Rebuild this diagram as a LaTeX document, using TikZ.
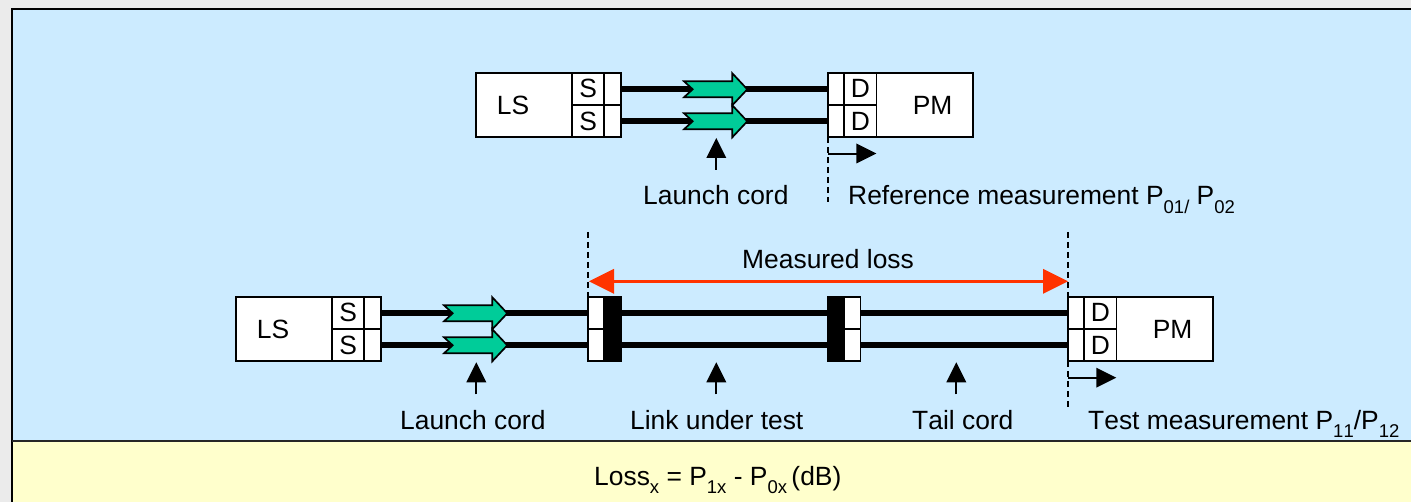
\documentclass[tikz,border=0pt]{standalone}
\usepackage{fontspec}
\setmainfont[Kerning=Off]{Liberation Sans}
\usetikzlibrary{positioning}
\definecolor{pagebg}{HTML}{EBEBEB}
\definecolor{skyfill}{HTML}{CCEBFF}
\definecolor{creamfill}{HTML}{FFFFCC}
\definecolor{greenfill}{HTML}{00CC99}
\definecolor{redline}{HTML}{FF3300}
\newcommand{\subtxt}[1]{\raisebox{-0.32em}{\fontsize{18.5}{20}\selectfont #1}}
\tikzset{
  cell/.style={draw=black,line width=1.7,fill=white,anchor=north west,inner sep=0,outer sep=0,text height=18,text depth=0,align=center,font=\fontsize{26.4}{30}\selectfont},
  blackcell/.style={cell,fill=black},
  label/.style={anchor=base west,inner sep=0,font=\fontsize{26.4}{30}\selectfont},
  fibre/.style={line width=5.5,draw=black},
  greenarrow/.style={draw=black,line width=1.7,fill=greenfill,line join=miter},
  thin/.style={line width=1.7,draw=black},
  dashline/.style={line width=1.7,draw=black,dash pattern=on 6 off 4},
  solidhead/.style={fill=black,draw=none}
}
\newcommand{\grn}[2]{\draw[greenarrow] (#1,#2-8) -- ++(8.7,8) -- ++(-8.7,8) -- ++(48.3,0) -- ++(0,8) -- ++(15,-16) -- ++(-15,-16) -- ++(0,8) -- cycle;}
\newcommand{\up}[3]{\coordinate (#3) at (#1,#2+32); \coordinate (#3t) at (#1,#2+19); \draw[thin] (#3) -- (#3t); \fill (#1,#2) -- (#1+10,#2+20) -- (#1-10,#2+20) -- cycle;}
\newcommand{\rgt}[2]{\fill (#1-20,#2-10) -- (#1,#2) -- (#1-20,#2+10) -- cycle;}
\begin{document}
\begin{tikzpicture}[x=1pt,y=-1pt]
\useasboundingbox (0,0) rectangle (1411,502);
\fill[pagebg] (0,0) rectangle (1411,502);
\fill[skyfill] (12,9) rectangle (1411,441);
\fill[creamfill] (12,441) rectangle (1411,502);
\draw[line width=2.2,draw=black] (12,502) -- (12,9) -- (1411,9);
\draw[line width=2.2,draw=black!85] (12,441) -- (1411,441);

% --- top row
\node[cell,minimum width=96,minimum height=64.3] (ls1) at (476,73) {\hspace*{-22pt}LS};
\node[cell,minimum width=32.5,minimum height=32] (s1a) at (572,73) {S};
\node[cell,minimum width=32.5,minimum height=32.3] (s1b) at (572,105) {S};
\node[cell,minimum width=16.5,minimum height=32] (c1a) at (604.3,73) {};
\node[cell,minimum width=16.5,minimum height=32.3] (c1b) at (604.3,105) {};
\node[cell,minimum width=16,minimum height=32] (e1a) at (828.3,73) {};
\node[cell,minimum width=16,minimum height=32.3] (e1b) at (828.3,105) {};
\node[cell,minimum width=32.2,minimum height=32] (d1a) at (844.3,73) {D};
\node[cell,minimum width=32.2,minimum height=32.3] (d1b) at (844.3,105) {D};
\node[cell,minimum width=96.2,minimum height=64.3] (pm1) at (876.5,73) {\hspace*{16pt}PM};
\draw[fibre] (c1a.east) -- (e1a.west);
\draw[fibre] (c1b.east) -- (e1b.west);
\grn{684}{121.3}
\grn{684}{89.3}
\up{716.3}{138}{u1}
\coordinate (ref1) at (828.3,137.3);
\coordinate (ref1e) at (828.3,202);
\draw[dashline] (ref1) -- (ref1e);
\coordinate (ra1) at (828.3,154);
\coordinate (rb1) at (860,154);
\draw[thin] (ra1) -- (rb1);
\rgt{876.3}{153.5}
\node[label] (t1) at (643,205) {Launch cord};
\node[label] (t2) at (848,205) {Reference measurement P\subtxt{01/} P\subtxt{02}};

% --- bottom row
\node[cell,minimum width=96,minimum height=64.3] (ls2) at (236,297) {\hspace*{-22pt}LS};
\node[cell,minimum width=32.5,minimum height=32] (s2a) at (332,297) {S};
\node[cell,minimum width=32.5,minimum height=32.3] (s2b) at (332,329) {S};
\node[cell,minimum width=16.5,minimum height=32] (c2a) at (364.3,297) {};
\node[cell,minimum width=16.5,minimum height=32.3] (c2b) at (364.3,329) {};
\node[cell,minimum width=16,minimum height=32] (w1a) at (588.3,297) {};
\node[cell,minimum width=16,minimum height=32.3] (w1b) at (588.3,329) {};
\node[blackcell,minimum width=16.5,minimum height=32] (k1a) at (604.3,297) {};
\node[blackcell,minimum width=16.5,minimum height=32.3] (k1b) at (604.3,329) {};
\node[blackcell,minimum width=17,minimum height=32] (k2a) at (827.5,297) {};
\node[blackcell,minimum width=17,minimum height=32.3] (k2b) at (827.5,329) {};
\node[cell,minimum width=16,minimum height=32] (w2a) at (844.5,297) {};
\node[cell,minimum width=16,minimum height=32.3] (w2b) at (844.5,329) {};
\node[cell,minimum width=16,minimum height=32] (e2a) at (1068.3,297) {};
\node[cell,minimum width=16,minimum height=32.3] (e2b) at (1068.3,329) {};
\node[cell,minimum width=32.2,minimum height=32] (d2a) at (1084.3,297) {D};
\node[cell,minimum width=32.2,minimum height=32.3] (d2b) at (1084.3,329) {D};
\node[cell,minimum width=96.2,minimum height=64.3] (pm2) at (1116.5,297) {\hspace*{16pt}PM};
\draw[fibre] (c2a.east) -- (w1a.west);
\draw[fibre] (c2b.east) -- (w1b.west);
\draw[fibre] (k1a.east) -- (k2a.west);
\draw[fibre] (k1b.east) -- (k2b.west);
\draw[fibre] (w2a.east) -- (e2a.west);
\draw[fibre] (w2b.east) -- (e2b.west);
\grn{444}{345.3}
\grn{444}{313.3}
\up{476.3}{362.3}{u2}
\up{716.3}{362.3}{u3}
\up{956.3}{362.3}{u4}
\coordinate (dl1) at (588.3,232);
\coordinate (dl2) at (1068.3,232);
\coordinate (dl3) at (1068.3,361.5);
\coordinate (dl4) at (1068.3,410);
\draw[dashline] (dl1) -- (w1a.north west);
\draw[dashline] (dl2) -- (e2a.north west);
\draw[dashline] (dl3) -- (dl4);
\coordinate (ra2) at (1068.3,377.7);
\coordinate (rb2) at (1100,377.7);
\draw[thin] (ra2) -- (rb2);
\rgt{1116.3}{377.7}
% red dimension arrow
\coordinate (ml) at (589,281.3);
\coordinate (mr) at (1068,281.3);
\draw[redline,line width=3] ([xshift=20]ml) -- ([xshift=-20]mr);
\fill[redline] (ml) -- ++(25,-12.5) -- ++(0,25) -- cycle;
\fill[redline] (mr) -- ++(-25,-12.5) -- ++(0,25) -- cycle;
\node[label] (t3) at (742,269) {Measured loss};
\node[label] (t4) at (400,429) {Launch cord};
\node[label] (t5) at (630,429) {Link under test};
\node[label] (t6) at (912,429) {Tail cord};
\node[label] (t7) at (1088,429) {Test measurement P\subtxt{11}/P\subtxt{12}};
\node[label] (t8) at (594,485) {Loss\subtxt{x} = P\subtxt{1x} - P\subtxt{0x}\,(dB)};
\end{tikzpicture}
\end{document}
